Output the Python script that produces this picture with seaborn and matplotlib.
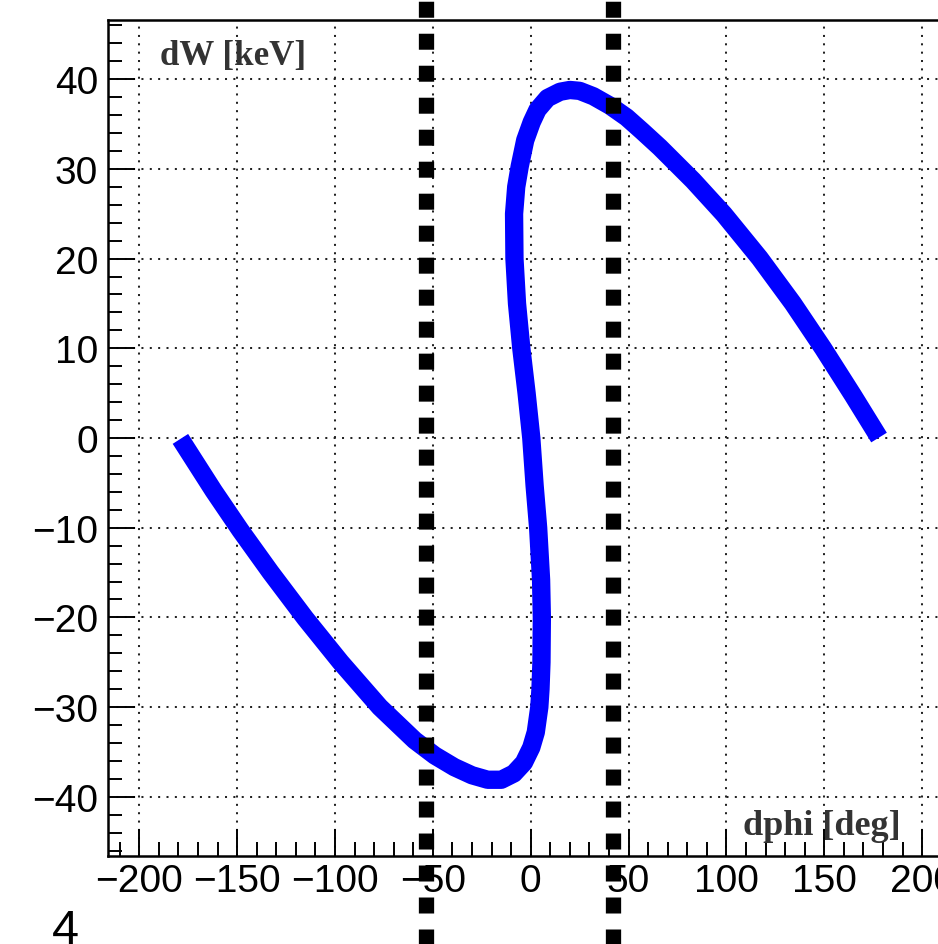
import matplotlib
matplotlib.use("Agg")
import matplotlib.pyplot as plt
from matplotlib.ticker import MultipleLocator
import seaborn as sns
import pandas as pd

# ---- data (separatrix, traced in order) ----
dphi = [-179, -162, -148.3, -133, -115.2, -97.1, -77.1, -59.3, -49, -39, -30,
        -22, -15, -8.6, -3.5, 0.3, 2.6, 4.4, 5.0, 5.5, 5.7, 5.3, 3.8, 2.0, 0.3,
        -2.1, -4.8, -7.0, -8.3, -8.5, -7.4, -5.6, -2.8, 0.5, 3.5, 8.6, 15, 20,
        25, 32, 40.5, 49, 57, 66, 83, 98.7, 117, 134, 149.4, 164.7, 178]
dW = [-0.1, -5.9, -10.3, -14.95, -20.1, -25.0, -30.0, -33.7, -35.4, -36.7,
      -37.6, -38.1, -38.1, -37.4, -36.2, -34.5, -32.8, -30.0, -28.0, -25.0,
      -20.0, -15.8, -10.0, -5.3, 0.0, 5.0, 10.0, 15.0, 20.0, 25.0, 28.0, 30.3,
      33.2, 35.2, 36.6, 37.9, 38.6, 38.8, 38.7, 38.1, 37.05, 35.75, 34.2, 32.4,
      28.7, 24.95, 20.05, 15.0, 10.0, 4.75, 0.05]
cut_lines = [-53.7, 42.3]
x_ticks = [-200, -150, -100, -50, 0, 50, 100, 150, 200]
y_ticks = [-40, -30, -20, -10, 0, 10, 20, 30, 40]
x_label = "dphi [deg]"
y_label = "dW [keV]"
page_number = "4"

df = pd.DataFrame({"dphi": dphi, "dW": dW})

sns.set_style("white")
plt.rcParams["font.family"] = ["Liberation Sans", "DejaVu Sans"]

DPI = 100
fig = plt.figure(figsize=(9.38, 9.45), dpi=DPI)
ax = fig.add_axes([108 / 938, 88 / 945, 845.4 / 938, 836 / 945])

sns.lineplot(data=df, x="dphi", y="dW", sort=False, estimator=None, ax=ax,
             color="#0000ff", linewidth=13.2, solid_capstyle="butt",
             solid_joinstyle="round", zorder=3)

ax.set_xlim(-216, 216)
ax.set_ylim(-46.6, 46.6)
ax.set_xticks(x_ticks)
ax.set_yticks(y_ticks)
ax.xaxis.set_minor_locator(MultipleLocator(10))
ax.yaxis.set_minor_locator(MultipleLocator(2))
ax.set_xlabel("")
ax.set_ylabel("")

ax.tick_params(which="major", direction="in", length=19.5, width=1.4,
               labelsize=28, color="black", labelcolor="black")
ax.tick_params(which="minor", direction="in", length=10, width=1.4, color="black")
ax.tick_params(axis="x", which="both", bottom=True, top=False, pad=5)
ax.tick_params(axis="y", which="both", left=True, right=False, pad=7)

for s in ax.spines.values():
    s.set_color("black")
    s.set_linewidth(1.8)

ax.grid(True, which="major", color="#222222", linestyle=(0, (1, 3.15)),
        linewidth=1.45, zorder=1)
ax.set_axisbelow(True)

# axis titles in ROOT style
ax.text(0.0615, 0.957, y_label, transform=ax.transAxes, ha="left", va="center",
        fontsize=25.2, fontweight="bold", family=["Liberation Serif", "DejaVu Serif"],
        color="#333333")
ax.text(0.937, 0.037, x_label, transform=ax.transAxes, ha="right", va="center",
        fontsize=26, fontweight="bold", family=["Liberation Serif", "DejaVu Serif"],
        color="#333333")

# vertical cut lines extending beyond the frame
for xc in cut_lines:
    ax.axvline(xc, ymin=-0.1112, ymax=1.0251, clip_on=False, color="black",
               linewidth=11, linestyle=(0, (1.047, 1.047)), dash_capstyle="butt",
               zorder=5)

fig.text(52 / 938, 1 / 945, page_number, fontsize=35, ha="left", va="baseline",
         color="black")

fig.savefig("out.png", dpi=DPI)
